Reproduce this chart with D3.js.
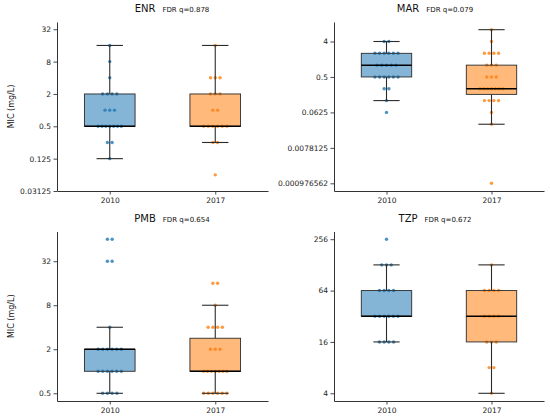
<!DOCTYPE html>
<html>
<head>
<meta charset="utf-8">
<script src="https://cdn.jsdelivr.net/npm/d3@7"></script>
<style>
  body { margin: 0; background: #fff; }
  text { font-family: "DejaVu Sans", sans-serif; }
</style>
</head>
<body>
<svg id="svg" width="550" height="420"></svg>
<script>
// ---- data ----
const years = ['2010', '2017'];
const drugs = ['ENR', 'MAR', 'PMB', 'TZP'];
const fdrQ = ['0.878', '0.079', '0.654', '0.672'];

// MIC values (mg/L) of the single isolates
const enr2010 = [16, 8, 4, 2, 2, 2, 2, 1, 1, 1, 0.5, 0.5, 0.5, 0.5, 0.5, 0.5, 0.5, 0.25, 0.25, 0.125];
const enr2017 = [16, 4, 4, 4, 2, 2, 2, 1, 1, 0.5, 0.5, 0.5, 0.5, 0.5, 0.5, 0.25, 0.25, 0.0625];
const mar2010 = [4, 4, 2, 2, 2, 2, 2, 2, 1, 1, 1, 1, 1, 0.5, 0.5, 0.5, 0.5, 0.5, 0.5, 0.25, 0.25, 0.125, 0.0625];
const mar2017 = [8, 4, 2, 2, 2, 2, 1, 1, 1, 0.5, 0.5, 0.5, 0.25, 0.25, 0.25, 0.25, 0.25, 0.25, 0.25,
                 0.125, 0.125, 0.125, 0.125, 0.0625, 0.03125, 0.0009765625];
const pmb2010 = [64, 64, 32, 32, 4, 2, 2, 2, 2, 2, 2, 1, 1, 1, 1, 1, 1, 0.5, 0.5, 0.5, 0.5];
const pmb2017 = [16, 16, 8, 4, 4, 4, 4, 2, 2, 2, 1, 1, 1, 1, 1, 1, 1, 0.5, 0.5, 0.5, 0.5, 0.5, 0.5];
const tzp2010 = [256, 128, 128, 128, 64, 64, 64, 64, 32, 32, 32, 32, 32, 32, 16, 16, 16, 16];
const tzp2017 = [128, 64, 64, 64, 64, 32, 32, 32, 32, 16, 16, 16, 8, 8, 4];

// box stats: [whisker low, q1, median, q3, whisker high]
const enrBox2010 = [0.125, 0.5, 0.5, 2, 16];
const enrBox2017 = [0.25, 0.5, 0.5, 2, 16];
const marBox2010 = [0.125, 0.5, 1, 2, 4];
const marBox2017 = [0.03125, 0.18, 0.25, 1, 8];
const pmbBox2010 = [0.5, 1, 2, 2, 4];
const pmbBox2017 = [0.5, 1, 1, 2.83, 8];
const tzpBox2010 = [16, 32, 32, 64, 128];
const tzpBox2017 = [4, 16, 32, 64, 128];

// y ticks
const enrTicks = [0.03125, 0.125, 0.5, 2, 8, 32];
const enrTickLabels = ['0.03125', '0.125', '0.5', '2', '8', '32'];
const marTicks = [0.0009765625, 0.0078125, 0.0625, 0.5, 4];
const marTickLabels = ['0.000976562', '0.0078125', '0.0625', '0.5', '4'];
const pmbTicks = [0.5, 2, 8, 32];
const pmbTickLabels = ['0.5', '2', '8', '32'];
const tzpTicks = [4, 16, 64, 256];
const tzpTickLabels = ['4', '16', '64', '256'];

const points = [[enr2010, enr2017], [mar2010, mar2017], [pmb2010, pmb2017], [tzp2010, tzp2017]];
const boxes = [[enrBox2010, enrBox2017], [marBox2010, marBox2017], [pmbBox2010, pmbBox2017], [tzpBox2010, tzpBox2017]];
const ticks = [enrTicks, marTicks, pmbTicks, tzpTicks];
const tickLabels = [enrTickLabels, marTickLabels, pmbTickLabels, tzpTickLabels];

// ---- layout ----
const panels = [
  { left: 57, right: 268, top: 22, bottom: 191, titleX: 172, ylabel: true, ylim: [0.03125, Math.pow(2, 5.45)] },
  { left: 334, right: 544, top: 22, bottom: 191, titleX: 435, ylabel: false },
  { left: 57, right: 268, top: 231.5, bottom: 401, titleX: 172, ylabel: true },
  { left: 334, right: 544, top: 231.5, bottom: 401, titleX: 435, ylabel: false }
];
const fills = ['#1f77b4', '#ff7f0e'];
const boxWidth = 0.48, capWidth = 0.25;

const svg = d3.select('#svg');

drugs.forEach((drug, i) => {
  const p = panels[i];
  const g = svg.append('g');

  // matplotlib-like 5% margin in log space unless limits are given
  let domain = p.ylim;
  if (!domain) {
    const all = points[i][0].concat(points[i][1]).map(Math.log2);
    const lo = d3.min(all), hi = d3.max(all), pad = (hi - lo) * 0.05;
    domain = [Math.pow(2, lo - pad), Math.pow(2, hi + pad)];
  }
  const y = d3.scaleLog().base(2).domain(domain).range([p.bottom, p.top]);
  const x = d3.scaleLinear().domain([-0.5, 1.5]).range([p.left, p.right]);

  years.forEach((yr, j) => {
    // strip points, spread evenly within each MIC level
    const groups = d3.groups(points[i][j], d => d);
    groups.forEach(([v, vals]) => {
      const n = vals.length;
      const step = n > 1 ? Math.min(0.22 / (n - 1), 0.045) : 0;
      vals.forEach((d, k) => {
        g.append('circle')
          .attr('cx', x(j + (k - (n - 1) / 2) * step))
          .attr('cy', y(d))
          .attr('r', 1.7)
          .attr('fill', fills[j])
          .attr('fill-opacity', 0.8);
      });
    });

    const [wlo, q1, med, q3, whi] = boxes[i][j];
    const stroke = '#2b2b2b';
    // whiskers
    g.append('line').attr('x1', x(j)).attr('x2', x(j)).attr('y1', y(q3)).attr('y2', y(whi))
      .attr('stroke', stroke).attr('stroke-width', 1.1);
    g.append('line').attr('x1', x(j)).attr('x2', x(j)).attr('y1', y(q1)).attr('y2', y(wlo))
      .attr('stroke', stroke).attr('stroke-width', 1.1);
    [wlo, whi].forEach(c => {
      g.append('line').attr('x1', x(j - capWidth / 2)).attr('x2', x(j + capWidth / 2))
        .attr('y1', y(c)).attr('y2', y(c))
        .attr('stroke', stroke).attr('stroke-width', 1.1);
    });
    // box
    g.append('rect')
      .attr('x', x(j - boxWidth / 2))
      .attr('width', x(j + boxWidth / 2) - x(j - boxWidth / 2))
      .attr('y', y(q3))
      .attr('height', y(q1) - y(q3))
      .attr('fill', fills[j])
      .attr('fill-opacity', 0.55)
      .attr('stroke', stroke)
      .attr('stroke-width', 0.9);
    // median
    g.append('line').attr('x1', x(j - boxWidth / 2)).attr('x2', x(j + boxWidth / 2))
      .attr('y1', y(med)).attr('y2', y(med))
      .attr('stroke', '#000').attr('stroke-width', 1.5);
  });

  // axes
  const yAxis = d3.axisLeft(y)
    .tickValues(ticks[i])
    .tickFormat((d, k) => tickLabels[i][k])
    .tickSize(3.5).tickSizeOuter(0).tickPadding(2.5);
  const ya = g.append('g').attr('transform', `translate(${p.left},0)`).call(yAxis);
  const xAxis = d3.axisBottom(x)
    .tickValues([0, 1])
    .tickFormat((d, k) => years[k])
    .tickSize(3.5).tickSizeOuter(0).tickPadding(3);
  const xa = g.append('g').attr('transform', `translate(0,${p.bottom})`).call(xAxis);
  [ya, xa].forEach(a => {
    a.select('.domain').attr('stroke', '#333').attr('stroke-width', 1);
    a.selectAll('.tick line').attr('stroke', '#333').attr('stroke-width', 0.9);
    a.selectAll('.tick text').attr('fill', '#222').style('font-size', '7.5px');
  });

  // title
  const t = g.append('text')
    .attr('x', p.titleX)
    .attr('y', p.top - 10)
    .attr('text-anchor', 'middle')
    .attr('fill', '#111');
  t.append('tspan').style('font-size', '10px').text(drug);
  t.append('tspan').attr('dx', 7).style('font-size', '7px').text('FDR q=' + fdrQ[i]);

  if (p.ylabel) {
    g.append('text')
      .attr('transform', `translate(14,${(p.top + p.bottom) / 2}) rotate(-90)`)
      .attr('text-anchor', 'middle')
      .attr('fill', '#111')
      .style('font-size', '8px')
      .text('MIC (mg/L)');
  }
});
</script>
</body>
</html>
